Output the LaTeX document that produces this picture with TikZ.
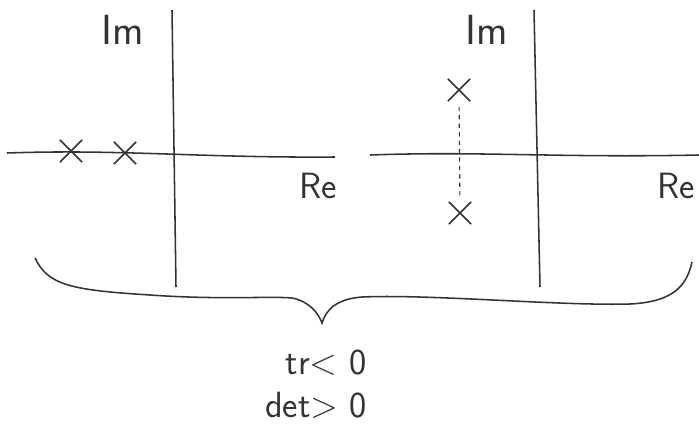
\documentclass[tikz,border=0pt]{standalone}
\usepackage{tikz}
\usetikzlibrary{shapes.misc}

\definecolor{pencil}{HTML}{333333}

\begin{document}
\begin{tikzpicture}[x=0.025cm, y=-0.025cm, line width=1.1pt, draw=pencil, text=pencil,
  pole/.style={cross out, draw=pencil, line width=1.1pt, minimum size=0.52cm, inner sep=0pt},
  axlabel/.style={font=\sffamily\fontsize{30}{34}\selectfont},
  cond/.style={font=\sffamily\fontsize{26}{30}\selectfont, inner sep=0pt}]

\useasboundingbox (0,0) rectangle (699,429);

%% -- left plane: two real poles --------------
  \draw (7,153) .. controls (120,149) and (200,158) .. (335,157);
  \draw (172,10) -- (176,287);
  \node[axlabel] (imL) at (123,30) {Im};
  \node[axlabel, font=\sffamily\fontsize{26}{30}\selectfont] (reL) at (318,186) {Re};
  \node[pole] (p1) at (71,151) {};
  \node[pole] (p2) at (125,153) {};

%% -- right plane: complex pair ---------------
  \draw (370,155) .. controls (480,151) and (560,158) .. (699,155);
  \draw (534,10) -- (540,287);
  \node[axlabel] (imR) at (487,30) {Im};
  \node[axlabel, font=\sffamily\fontsize{26}{30}\selectfont] (reR) at (676,186) {Re};
  \node[pole] (p3) at (459,90) {};
  \node[pole] (p4) at (460,213) {};
  \draw[dashed, line width=0.8pt, shorten <=4pt, shorten >=3pt] (p3) -- (p4);

%% -- brace under both ------------------------
  \coordinate (tip) at (322,323);
  \draw (35,258) .. controls (48,285) and (70,290) .. (150,295)
        .. controls (220,300) and (270,296) .. (292,298)
        .. controls (308,301) and (318,312) .. (tip)
        .. controls (326,310) and (336,299) .. (362,297)
        .. controls (430,294) and (560,306) .. (630,304)
        .. controls (668,302) and (686,290) .. (692,262);

  % conditions
  \node[cond] (tr) at (326,363) {tr< 0};
  \node[cond] (det) at (316,405) {det> 0};

\end{tikzpicture}
\end{document}
